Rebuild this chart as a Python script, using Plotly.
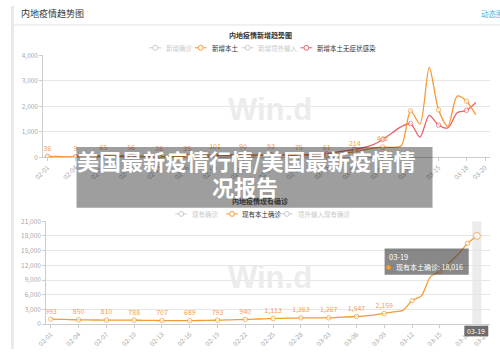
import plotly.graph_objects as go

# ---------------- data ----------------
DATES = ["02-01", "02-02", "02-03", "02-04", "02-05", "02-06", "02-07", "02-08", "02-09", "02-10",
         "02-11", "02-12", "02-13", "02-14", "02-15", "02-16", "02-17", "02-18", "02-19", "02-20",
         "02-21", "02-22", "02-23", "02-24", "02-25", "02-26", "02-27", "02-28",
         "03-01", "03-02", "03-03", "03-04", "03-05", "03-06", "03-07", "03-08", "03-09", "03-10",
         "03-11", "03-12", "03-13", "03-14", "03-15", "03-16", "03-17", "03-18", "03-19", "03-20"]

# 新增本土 (02-01 .. 03-19)
NEW_LOCAL = [36, 30, 20, 9, 25, 45, 65, 58, 60, 56,
             42, 32, 26, 28, 31, 35, 55, 82, 101, 96,
             92, 90, 88, 91, 93, 86, 80, 75,
             70, 66, 61, 102, 160, 214, 290, 360, 402, 390,
             450, 1820, 1300, 3520, 1860, 1210, 2400, 2200, 1670]

# 新增本土无症状感染 (02-01 .. 03-19)
NEW_ASYMP = [12, 15, 10, 8, 12, 20, 25, 30, 28, 25,
             20, 18, 15, 20, 25, 30, 40, 50, 60, 65,
             70, 72, 70, 75, 80, 85, 90, 95,
             100, 110, 130, 200, 250, 310, 390, 500, 700, 950,
             1200, 1320, 790, 1640, 1260, 1150, 1750, 1840, 2150]

# 现有本土确诊 (02-01 .. 03-19)
CUR_LOCAL = [993, 960, 900, 850, 830, 820, 810, 800, 795, 788,
             760, 730, 707, 700, 695, 689, 720, 755, 793, 840,
             890, 940, 1000, 1060, 1113, 1160, 1215, 1263,
             1265, 1266, 1267, 1350, 1440, 1547, 1680, 1880, 2159, 2480,
             2790, 4770, 5760, 9700, 10730, 12500, 14300, 16500, 18016]

TOP_TICKS = DATES[::3] + ["03-20"]
BOT_TICKS = DATES[::3] + ["03-20"]

TOP_TITLE = "内地疫情新增趋势图"
BOT_TITLE = "内地疫情现有确诊"
TOP_LEGEND = ["新增确诊", "新增本土", "新增境外输入", "新增本土无症状感染"]
BOT_LEGEND = ["现有确诊", "现有本土确诊", "境外输入现有确诊"]
HEADER = "内地疫情趋势图"
LINK = "动态图"
BANNER_1 = "美国最新疫情行情/美国最新疫情情"
BANNER_2 = "况报告"

# ---------------- style ----------------
W, H = 500, 353
ORANGE = "#f59a35"
ORANGE_TXT = "#f5a04a"
RED = "#e5646c"
GREY_OFF = "#c9c9c9"
AX = "#a8a8a8"
GRID = "#e6e6e6"
FONT = "Noto Sans CJK SC"


def px(x):
    return x / W


def py(y):
    return 1 - y / H


n = len(NEW_LOCAL)
idx = list(range(n))
msize = [4.5 if i % 3 == 0 else 0 for i in idx]

top_labels = [str(NEW_LOCAL[i]) if (i % 3 == 0 and i <= 36) else "" for i in idx]
bot_labels = [f"{CUR_LOCAL[i]:,}" if (i % 3 == 0 and i <= 36) else "" for i in idx]

fig = go.Figure()

fig.add_trace(go.Scatter(
    x=DATES[:n], y=NEW_ASYMP, mode="lines+markers", xaxis="x", yaxis="y",
    line=dict(color=RED, width=1.3, shape="spline", smoothing=0.8),
    marker=dict(size=msize, color="white", line=dict(color=RED, width=1)),
    hoverinfo="skip", showlegend=False))

fig.add_trace(go.Scatter(
    x=DATES[:n], y=NEW_LOCAL, mode="lines+markers+text", xaxis="x", yaxis="y",
    line=dict(color=ORANGE, width=1.3, shape="spline", smoothing=0.8),
    marker=dict(size=msize, color="white", line=dict(color=ORANGE, width=1)),
    text=top_labels, textposition="top center",
    textfont=dict(size=7, color=ORANGE_TXT, family=FONT),
    hoverinfo="skip", showlegend=False))

bsize = list(msize)
bsize[-1] = 7
fig.add_trace(go.Scatter(
    x=DATES[:n], y=CUR_LOCAL, mode="lines+markers+text", xaxis="x2", yaxis="y2",
    line=dict(color=ORANGE, width=1.3, shape="spline", smoothing=0.8),
    marker=dict(size=bsize, color="white", line=dict(color=ORANGE, width=1)),
    text=bot_labels, textposition="top center",
    textfont=dict(size=7, color=ORANGE_TXT, family=FONT),
    hoverinfo="skip", showlegend=False))

axis_common = dict(tickfont=dict(size=6.5, color=AX, family=FONT), showline=True,
                   linecolor="#cccccc", linewidth=1, ticks="outside", ticklen=3,
                   tickcolor="#cccccc", zeroline=False)

fig.update_layout(
    width=W, height=H, margin=dict(l=0, r=0, t=0, b=0),
    paper_bgcolor="white", plot_bgcolor="rgba(0,0,0,0)",
    font=dict(family=FONT),
    hovermode=False,
    xaxis=dict(domain=[px(33), px(490)], anchor="y", type="category",
               categoryorder="array", categoryarray=DATES, range=[-0.45, 47.55],
               tickmode="array", tickvals=TOP_TICKS, tickangle=-45, showgrid=False,
               **axis_common),
    yaxis=dict(domain=[py(155.7), py(50.7)], anchor="x", range=[0, 4000], dtick=1000,
               tickformat=",d", showgrid=True, gridcolor=GRID, gridwidth=1, **axis_common),
    xaxis2=dict(domain=[px(36), px(490)], anchor="y2", type="category",
                categoryorder="array", categoryarray=DATES, range=[-0.5, 47.44],
                tickmode="array", tickvals=BOT_TICKS, tickangle=-45, showgrid=False,
                **axis_common),
    yaxis2=dict(domain=[py(327.3), py(221.6)], anchor="x2", range=[0, 21000], dtick=3000,
                tickformat=",d", showgrid=True, gridcolor=GRID, gridwidth=1, **axis_common),
)

shapes = []
ann = []


def text(t, x, y, size, color, xanchor="center", family=FONT):
    ann.append(dict(text=t, x=px(x), y=py(y), xref="paper", yref="paper", xanchor=xanchor,
                    yanchor="middle", showarrow=False, font=dict(size=size, color=color, family=family)))


# page frame
shapes.append(dict(type="rect", xref="paper", yref="paper", x0=0, x1=px(3), y0=0, y1=1,
                   fillcolor="#e9e9e9", line=dict(width=0), layer="below"))
shapes.append(dict(type="line", xref="paper", yref="paper", x0=px(3), x1=1, y0=py(19.5), y1=py(19.5),
                   line=dict(color="#e3e3e3", width=1), layer="below"))

# header
text(HEADER, 8, 7.5, 9, "#333333", "left")
text(LINK, 479, 7.5, 7.5, "#4db3e0", "left")

# watermarks
for wy in (107, 279):
    text("<b>Win.d</b>", 265, wy, 31, "#ececec", family="Liberation Sans")

# titles
text("<b>" + TOP_TITLE + "</b>", 255, 29.5, 7, "#333333")
text("<b>" + BOT_TITLE + "</b>", 255, 201, 7, "#333333")


def legend(items, y):
    for label, color, ix, tx, tcol in items:
        shapes.append(dict(type="line", xref="paper", yref="paper", x0=px(ix), x1=px(ix + 12),
                           y0=py(y), y1=py(y), line=dict(color=color, width=1)))
        shapes.append(dict(type="circle", xref="paper", yref="paper", x0=px(ix + 3.5), x1=px(ix + 8.5),
                           y0=py(y + 2.5), y1=py(y - 2.5), fillcolor="white",
                           line=dict(color=color, width=1)))
        text(label, tx, y, 6.5, tcol, "left")


legend([(TOP_LEGEND[0], GREY_OFF, 141.5, 156, GREY_OFF),
        (TOP_LEGEND[1], ORANGE, 188, 203, "#333333"),
        (TOP_LEGEND[2], GREY_OFF, 236, 250, GREY_OFF),
        (TOP_LEGEND[3], RED, 296, 311, "#333333")], 43)
legend([(BOT_LEGEND[0], GREY_OFF, 168, 183, GREY_OFF),
        (BOT_LEGEND[1], ORANGE, 220, 234, "#333333"),
        (BOT_LEGEND[2], GREY_OFF, 276, 291, GREY_OFF)], 214)

# axis pointer shadow (bottom chart)
last = n - 1
shapes.append(dict(type="rect", xref="x2", yref="y2", x0=last - 0.5, x1=last + 0.5, y0=0, y1=21000,
                   fillcolor="rgba(150,150,150,0.18)", line=dict(width=0), layer="below"))

# banner overlay
shapes.append(dict(type="rect", xref="paper", yref="paper", x0=px(67), x1=px(431), y0=py(207.7), y1=py(145),
                   fillcolor="rgba(0,0,0,0.38)", line=dict(width=0), layer="above"))
text("<b>" + BANNER_1 + "</b>", 241, 159, 22, "white")
text("<b>" + BANNER_2 + "</b>", 239, 185, 22, "white")

# tooltip
shapes.append(dict(type="rect", xref="paper", yref="paper", x0=px(382), x1=px(468), y0=py(276.7), y1=py(249.5),
                   fillcolor="rgba(50,50,50,0.58)", line=dict(width=0), layer="above"))
text(DATES[last], 384.5, 257.5, 7.5, "white", "left")
shapes.append(dict(type="circle", xref="paper", yref="paper", x0=px(383.5), x1=px(388.5),
                   y0=py(271.5), y1=py(266.5), fillcolor=ORANGE, line=dict(width=0), layer="above"))
text(f"现有本土确诊: {CUR_LOCAL[last]:,}", 391.5, 268.5, 7, "white", "left")

# axis pointer label
shapes.append(dict(type="rect", xref="paper", yref="paper", x0=px(463.5), x1=px(488), y0=py(340), y1=py(329),
                   fillcolor="#6e6e6e", line=dict(width=0), layer="above"))
text(DATES[last], 475.7, 334.5, 7, "white")

fig.update_layout(shapes=shapes, annotations=ann)
fig.write_html("out.html")
